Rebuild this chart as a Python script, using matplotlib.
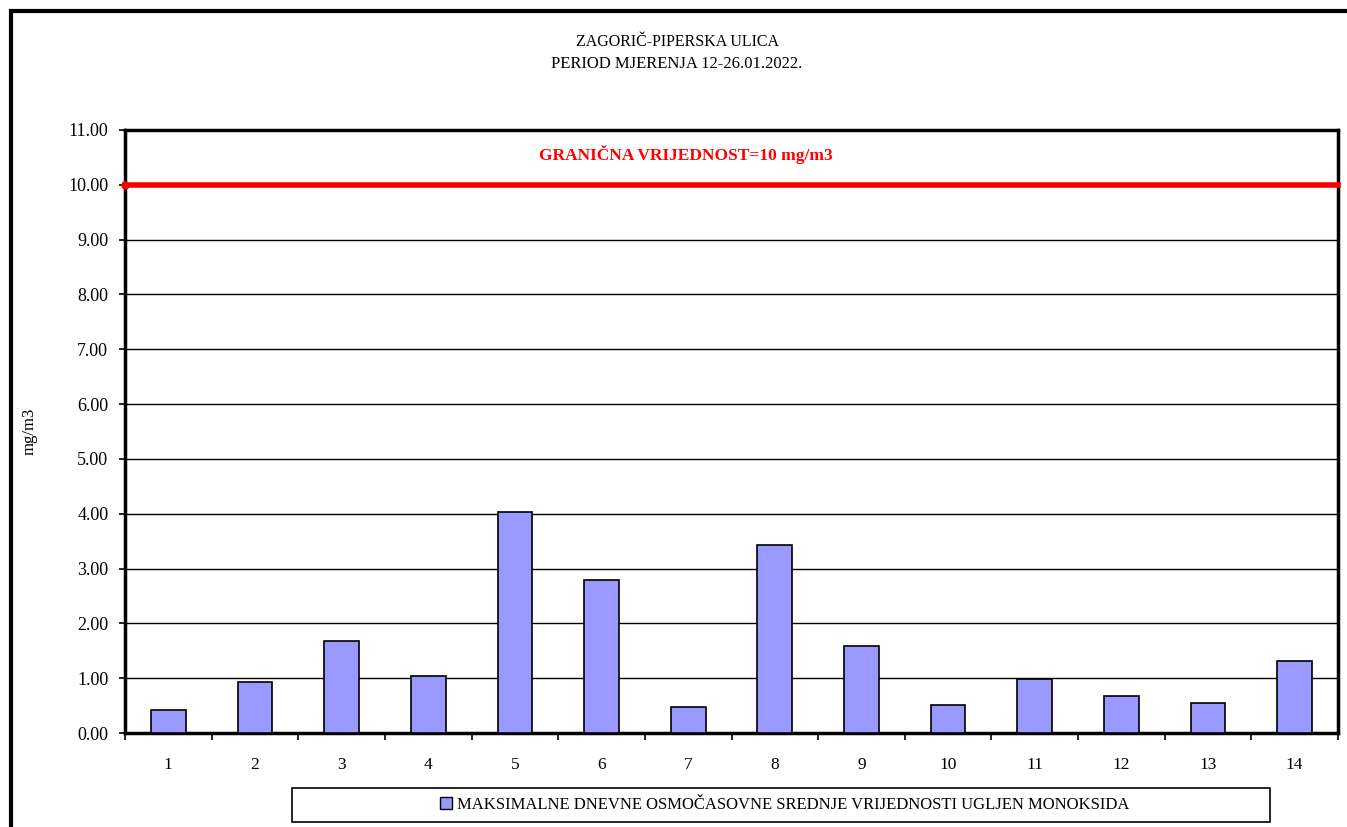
import matplotlib
matplotlib.use('Agg')
import matplotlib.pyplot as plt
from matplotlib.patches import Rectangle

plt.rcParams['font.family'] = ['Liberation Serif', 'DejaVu Serif']

days = [str(i) for i in range(1, 15)]
co_max = [0.42, 0.93, 1.68, 1.04, 4.03, 2.79, 0.47, 3.43, 1.59, 0.51, 0.99, 0.68, 0.55, 1.31]
limit = 10
limit_label = 'GRANIČNA VRIJEDNOST=10 mg/m3'
series_label = 'MAKSIMALNE DNEVNE OSMOČASOVNE SREDNJE VRIJEDNOSTI UGLJEN MONOKSIDA'

W, H = 1347, 827
fig = plt.figure(figsize=(W/100, H/100), dpi=100)
ax = fig.add_axes([125/W, 1-733/H, (1338-125)/W, (733-130)/H])

# outer frame of the chart area (cut off on right/bottom)
fig.patches.append(Rectangle((11/W, -0.1), 2, 1.1-11/H, transform=fig.transFigure,
                             fill=False, edgecolor='black', linewidth=3))

x = list(range(len(days)))
ax.bar(x, co_max, width=0.4, color='#9999ff', edgecolor='black', linewidth=1.2, zorder=3)

ax.set_xlim(-0.5, len(days)-0.5)
ax.set_ylim(0, 11)
ax.set_yticks(range(0, 12))
ax.set_yticklabels(['%.2f' % v for v in range(0, 12)], fontsize=13)
ax.yaxis.grid(True, color='black', linewidth=1)
ax.set_axisbelow(True)

ax.set_xticks([i - 0.5 for i in range(len(days)+1)], minor=False)
ax.set_xticklabels([])
ax.set_xticks(x, minor=True)
ax.set_xticklabels(days, minor=True, fontsize=12.5)
ax.tick_params(axis='x', which='minor', length=0, pad=17)
ax.tick_params(axis='x', which='major', length=5, width=1.2, direction='out')
ax.tick_params(axis='y', length=4, width=1.2, direction='out', pad=8)

for s in ax.spines.values():
    s.set_linewidth(2.5)

ax.axhline(limit, color='#ff0000', linewidth=4, zorder=4, clip_on=False)
ax.plot([-0.5], [limit], 'o', color='#ff0000', markersize=5, clip_on=False, zorder=5)
ax.text(0.4625, 10.55, limit_label, color='#ff0000', fontsize=12.5, fontweight='bold',
        ha='center', va='center', transform=ax.get_yaxis_transform())

ax.set_ylabel('mg/m3', fontsize=12)
ax.yaxis.set_label_coords(-0.072, 0.5)

fig.text(677/W, 1-42/H, 'ZAGORIČ-PIPERSKA ULICA', ha='center', va='center', fontsize=11.5)
fig.text(677/W, 1-64/H, 'PERIOD MJERENJA 12-26.01.2022.', ha='center', va='center', fontsize=12)

# legend box spans wider than its content
fig.patches.append(Rectangle((292/W, 1-822/H), (1270-292)/W, 34/H, transform=fig.transFigure,
                             fill=False, edgecolor='black', linewidth=1.2))
leg = fig.legend([plt.Rectangle((0, 0), 1, 1, facecolor='#9999ff', edgecolor='black')],
                 [series_label], loc='center', bbox_to_anchor=(785/W, 1-805/H),
                 fontsize=12, frameon=False, handlelength=0.7,
                 handleheight=0.7, handletextpad=0.3)

fig.savefig('out.png', dpi=100)
